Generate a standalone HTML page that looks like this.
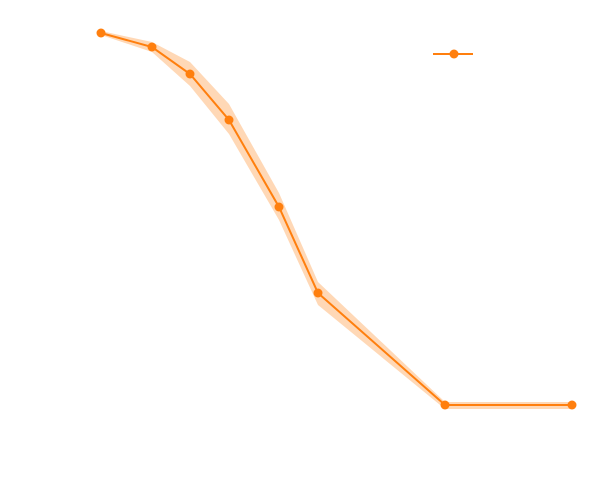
<!DOCTYPE html>
<html><head><style>html,body{margin:0;padding:0;background:#fff}svg{display:block}</style></head>
<body>
<svg width="600" height="500" xmlns="http://www.w3.org/2000/svg">
<rect width="600" height="500" fill="#fff"/>
<polygon fill="#ff7f0e" fill-opacity="0.3" points="101,31 152,42 190,62 229,104 279,193 318,282 445,402 572,402 572,409 445,409 318,305 279,220 229,134 190,86 152,52 101,35"/>
<polyline fill="none" stroke="#ff7f0e" stroke-width="2" points="101,33 152,47 190,74 229,120 279,207 318,293 445,405 572,405"/>
<g fill="#ff7f0e">
<circle cx="101" cy="33" r="4.5"/><circle cx="152" cy="47" r="4.5"/><circle cx="190" cy="74" r="4.5"/><circle cx="229" cy="120" r="4.5"/><circle cx="279" cy="207" r="4.5"/><circle cx="318" cy="293" r="4.5"/><circle cx="445" cy="405" r="4.5"/><circle cx="572" cy="405" r="4.5"/>
</g>
<line x1="433" y1="54" x2="473" y2="54" stroke="#ff7f0e" stroke-width="2"/>
<circle cx="454" cy="54" r="4.5" fill="#ff7f0e"/>
</svg>
</body></html>
